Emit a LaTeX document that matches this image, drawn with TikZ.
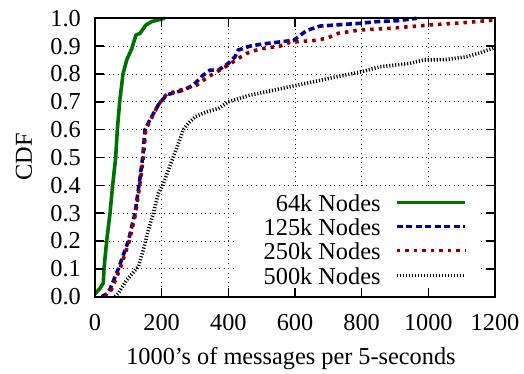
\documentclass[tikz,border=0pt]{standalone}
\usepackage{fontspec}
\setmainfont{Liberation Serif}
\definecolor{dkgreen}{RGB}{0,112,0}
\definecolor{dkblue}{RGB}{0,0,150}
\definecolor{dkred}{RGB}{140,0,0}
\begin{document}
\begin{tikzpicture}[x=1pt,y=1pt,
  font=\fontsize{24.3}{28}\selectfont,
  framebox/.style={line width=1.8pt, line join=miter},
  gridline/.style={line width=0.8pt, black!85, dash pattern=on 1pt off 3.6pt},
  tickmark/.style={line width=1.6pt},
  ticklabel/.style={inner sep=0pt},
  keytext/.style={anchor=east, inner sep=0pt},
  s64/.style={line width=3.6pt, dkgreen, line join=round},
  s125/.style={line width=3.6pt, dkblue, dash pattern=on 6pt off 3.5pt},
  s250/.style={line width=3.6pt, dkred, dash pattern=on 3.5pt off 5pt},
  s500/.style={line width=3.6pt, black, dash pattern=on 1.1pt off 1.9pt}
]
\useasboundingbox (0,0) rectangle (524,374);

% axes area: 0..1200 on x, 0..1 on y
\begin{scope}[shift={(95,77.3)}, x=0.33333pt, y=278.4pt]
  % grid
  \foreach \v in {200,400,...,1000} \draw[gridline] (\v,0) -- (\v,1);
  \foreach \c in {0.1,0.2,...,0.95} \draw[gridline] (0,\c) -- (1200,\c);

  % opaque key background
  \fill[white] (417,0.003) rectangle (1155,0.3928);

  % data
  \draw[s64] plot coordinates {(0,0.01) (15,0.03) (25,0.05) (27,0.1) (35,0.2) (45,0.3)
    (53,0.4) (62,0.5) (67,0.6) (74,0.7) (84,0.8) (95,0.85) (110,0.89) (123,0.94)
    (135,0.946) (153,0.976) (170,0.988) (195,0.996) (210,1.0)};
  \draw[s125] plot coordinates {(20,0) (35,0.01) (45,0.027) (70,0.1) (100,0.2) (120,0.3)
    (132,0.4) (143,0.5) (150,0.6) (165,0.636) (190,0.689) (215,0.725) (265,0.742)
    (295,0.76) (325,0.796) (345,0.814) (370,0.814) (400,0.838) (420,0.862) (430,0.886)
    (465,0.9) (505,0.908) (575,0.918) (595,0.92) (635,0.956) (675,0.972) (795,0.982)
    (845,0.988) (905,0.991) (965,1.0)};
  \draw[s250] plot coordinates {(28,0) (40,0.01) (50,0.027) (75,0.1) (103,0.2) (122,0.3)
    (134,0.4) (145,0.5) (152,0.6) (167,0.636) (190,0.689) (215,0.728) (265,0.745)
    (305,0.76) (340,0.79) (400,0.832) (425,0.852) (455,0.874) (495,0.89) (555,0.9)
    (585,0.914) (655,0.92) (695,0.928) (730,0.946) (795,0.958) (885,0.964)
    (1005,0.976) (1115,0.985) (1200,0.994)};
  \draw[s500] plot coordinates {(60,0) (70,0.012) (95,0.06) (130,0.108) (145,0.168)
    (160,0.24) (175,0.3) (190,0.371) (203,0.4) (228,0.48) (250,0.55) (265,0.6)
    (280,0.623) (300,0.646) (335,0.664) (370,0.676) (400,0.7) (465,0.724) (560,0.748)
    (655,0.772) (725,0.79) (800,0.808) (855,0.826) (945,0.838) (985,0.85) (1055,0.852)
    (1115,0.862) (1155,0.876) (1200,0.895)};

  % border
  \draw[framebox] (0,0) rectangle (1200,1);

  % ticks and tick labels
  \foreach \v in {0,200,...,1200} {
    \draw[tickmark] (\v,0) -- ++(0,9pt);
    \draw[tickmark] (\v,1) -- ++(0,-9pt);
    \node[ticklabel, anchor=base] at (\v,0) [yshift=-34pt] {\v};
  }
  \foreach \c in {0.0,0.1,0.2,0.3,0.4,0.5,0.6,0.7,0.8,0.9,1.0} {
    \draw[tickmark] (0,\c) -- ++(9pt,0);
    \draw[tickmark] (1200,\c) -- ++(-9pt,0);
    \node[ticklabel, anchor=east] at (0,\c) [xshift=-14pt] {\c};
  }
\end{scope}

% axis titles
\node[inner sep=0pt, anchor=base] (xtitle) at (291,9) {1000’s of messages per 5-seconds};
\node[inner sep=0pt, rotate=90] (ytitle) at (24,217) {CDF};

% key
\node[keytext] (k64)  at (380.7,171.3) {64k Nodes};
\node[keytext] (k125) at (380.7,147.3) {125k Nodes};
\node[keytext] (k250) at (380.7,123.3) {250k Nodes};
\node[keytext] (k500) at (380.7,98.3)  {500k Nodes};
\coordinate (l64a) at (396.7,171.3);  \coordinate (l64b) at (465,171.3);
\coordinate (l125a) at (396.7,147.3); \coordinate (l125b) at (465,147.3);
\coordinate (l250a) at (396.7,123.3); \coordinate (l250b) at (465,123.3);
\coordinate (l500a) at (396.7,98.3);  \coordinate (l500b) at (465,98.3);
\draw[s64]  (l64a) -- (l64b);
\draw[s125] (l125a) -- (l125b);
\draw[s250] (l250a) -- (l250b);
\draw[s500] (l500a) -- (l500b);
\end{tikzpicture}
\end{document}
